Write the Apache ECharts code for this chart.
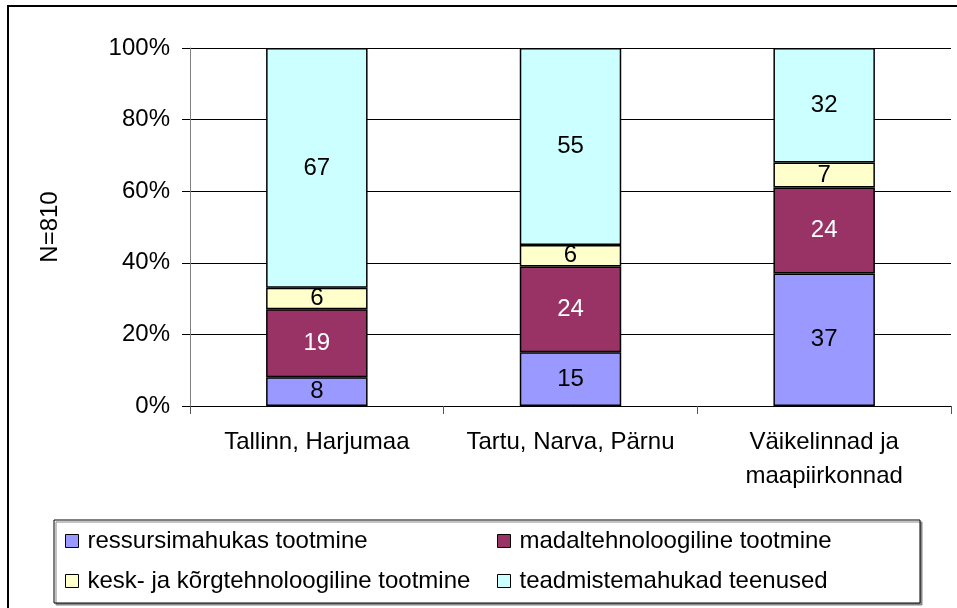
<!DOCTYPE html>
<html>
<head>
<meta charset="utf-8">
<script src="https://cdn.jsdelivr.net/npm/echarts@6/dist/echarts.min.js"></script>
<style>
  html, body { margin: 0; padding: 0; background: #fff; }
  #main { width: 957px; height: 608px; }
</style>
</head>
<body>
<div id="main"></div>
<script>
// piirkonnad
var categories = ['Tallinn, Harjumaa', 'Tartu, Narva, Pärnu', 'Väikelinnad ja\nmaapiirkonnad'];
var seriesNames = ['ressursimahukas tootmine', 'madaltehnoloogiline tootmine', 'kesk- ja kõrgtehnoloogiline tootmine', 'teadmistemahukad teenused'];
var ressursimahukas = [8, 15, 37];
var madaltehno = [19, 24, 24];
var kesktehno = [6, 6, 7];
var teadmistemahukad = [67, 55, 32];
var yTicks = [0, 20, 40, 60, 80, 100];

var colors = ['#9999FF', '#993366', '#FFFFCC', '#CCFFFF'];
var labelColors = ['#000', '#fff', '#000', '#000'];
var font = 'Liberation Sans, Arial, sans-serif';
var fs = 24;

var myChart = echarts.init(document.getElementById('main'));

function makeSeries(i, data) {
  return {
    name: seriesNames[i],
    type: 'bar',
    stack: 'kokku',
    barWidth: '40%',
    data: data,
    itemStyle: { color: colors[i], borderColor: '#000', borderWidth: 1.5 },
    label: {
      show: true,
      position: 'inside',
      color: labelColors[i],
      fontFamily: font,
      fontSize: fs
    },
    emphasis: { disabled: true }
  };
}

// legend kahes veerus
function makeLegend(names, left) {
  return {
    data: names,
    orient: 'vertical',
    left: left, top: 529,
    padding: 0,
    itemWidth: 13, itemHeight: 13, itemGap: 16,
    icon: 'rect',
    itemStyle: { borderColor: '#000', borderWidth: 1 },
    textStyle: { fontSize: fs, color: '#000', fontFamily: font, padding: [0, 0, 0, 4] }
  };
}

var option = {
  animation: false,
  backgroundColor: '#fff',
  textStyle: { fontFamily: font },
  grid: { left: 190, right: 6, top: 48, bottom: 202 },
  legend: [
    makeLegend([seriesNames[0], seriesNames[2]], 65),
    makeLegend([seriesNames[1], seriesNames[3]], 497)
  ],
  graphic: [
    {
      type: 'rect', silent: true, z: -1,
      shape: { x: 8, y: 6, width: 970, height: 620 },
      style: { fill: 'none', stroke: '#000', lineWidth: 2 }
    },
    {
      type: 'rect', silent: true, z: -1,
      shape: { x: 54, y: 520, width: 866, height: 83 },
      style: { fill: '#fff', stroke: '#000', lineWidth: 1, shadowColor: '#888', shadowOffsetX: 2, shadowOffsetY: 2, shadowBlur: 0 }
    }
  ],
  xAxis: {
    type: 'category',
    data: categories,
    axisLine: { lineStyle: { color: '#000', width: 1 } },
    axisTick: { show: true, length: 8, lineStyle: { color: '#555' } },
    axisLabel: { color: '#000', fontSize: fs, fontFamily: font, margin: 19, lineHeight: 34, interval: 0 }
  },
  yAxis: {
    type: 'value',
    min: 0, max: 100, interval: 20,
    name: 'N=810',
    nameLocation: 'middle',
    nameGap: 128,
    nameRotate: 90,
    nameTextStyle: { color: '#000', fontSize: fs, fontFamily: font },
    axisLine: { show: true, lineStyle: { color: '#808080', width: 1 } },
    axisTick: { show: true, length: 8, lineStyle: { color: '#000' } },
    axisLabel: {
      color: '#000', fontSize: fs, fontFamily: font, margin: 20,
      formatter: function (v) { return yTicks.indexOf(v) >= 0 ? v + '%' : ''; }
    },
    splitLine: { show: true, lineStyle: { color: '#000', width: 1 } }
  },
  series: [
    makeSeries(0, ressursimahukas),
    makeSeries(1, madaltehno),
    makeSeries(2, kesktehno),
    makeSeries(3, teadmistemahukad)
  ]
};

myChart.setOption(option);
</script>
</body>
</html>
